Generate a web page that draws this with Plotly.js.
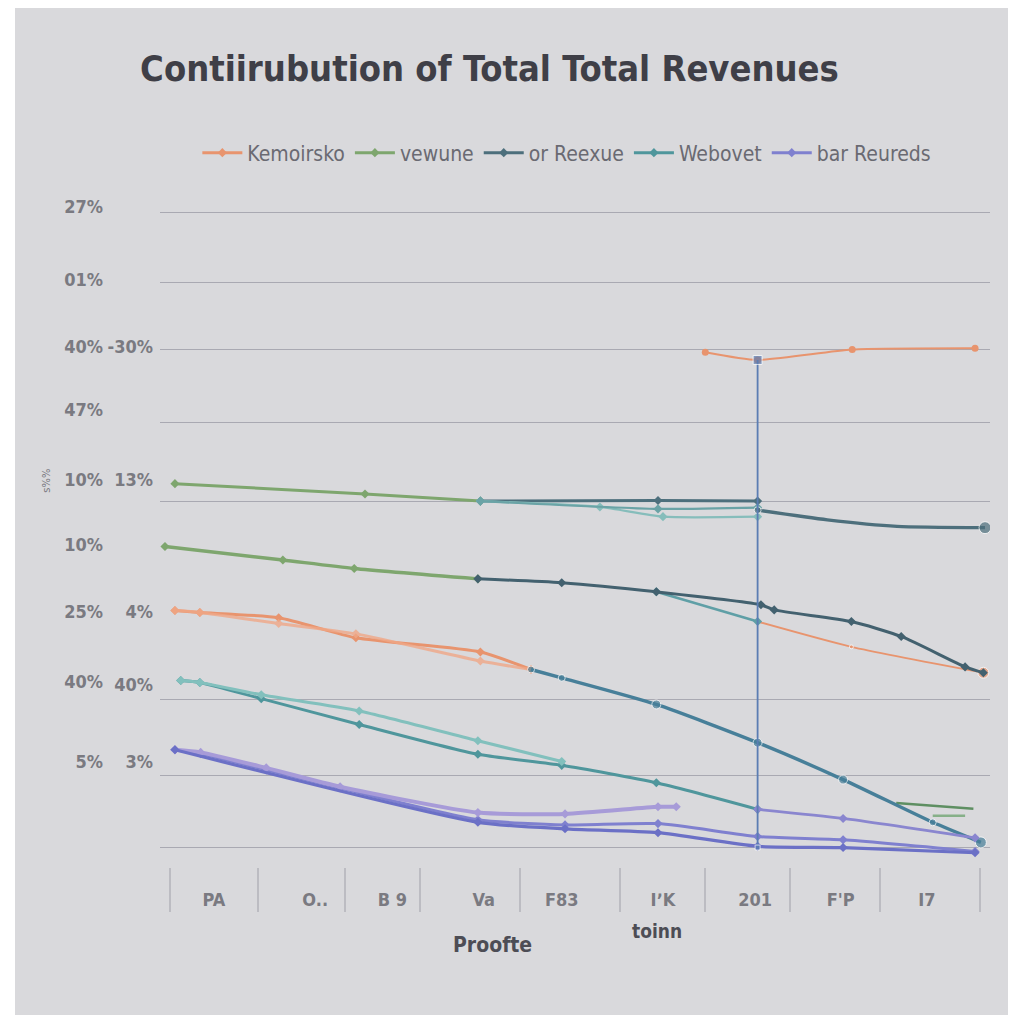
<!DOCTYPE html>
<html>
<head>
<meta charset="utf-8">
<script src="https://cdn.plot.ly/plotly-3.0.1.min.js"></script>
<style>
  html, body { margin: 0; padding: 0; background: #ffffff; width: 1024px; height: 1024px; overflow: hidden; }
  #chart { position: absolute; left: 15px; top: 8px; width: 993px; height: 1007px; }
</style>
</head>
<body>
<div id="chart"></div>
<script>
// ---------------- data ----------------
const seriesNames = ["Kemoirsko", "vewune", "or Reexue", "Webovet", "bar Reureds"];
const seriesColors = ["#e8946e", "#7ea66e", "#4d6f7c", "#4f969c", "#7f80cf"];

const catPos = [6.5, 18.7, 28, 39, 48.4, 60.6, 71.7, 82, 92.4];
const catLabels = ["PA", "O..", "B 9", "Va", "F83", "I\u02BCK", "201", "F'P", "I7"];
const tickBarPos = [1.2, 11.8, 22.3, 31.3, 43.4, 55.4, 65.7, 75.9, 86.7, 98.8];

const gridVals = [98.1, 87.3, 76.9, 65.7, 53.5, 22.8, 11.1, 0];
const yTickPos1 = [98.9, 87.7, 77.3, 67.6, 56.8, 46.8, 36.4, 25.6, 13.3];
const yTickLabels1 = ["27%", "01%", "40%", "47%", "10%", "10%", "25%", "40%", "5%"];
const yTickPos2 = [77.3, 56.8, 36.4, 25.2, 13.3];
const yTickLabels2 = ["-30%", "13%", "4%", "40%", "3%"];

// orange (Kemoirsko)
const orangeTopX = [65.7, 72.0, 83.4, 98.2];
const orangeTopY = [76.5, 75.3, 76.9, 77.1];
const orangeLowX = [1.8, 4.8, 14.3, 23.6, 38.6, 44.7];
const orangeLowY = [36.6, 36.3, 35.5, 32.4, 30.2, 27.5];
const orangeLowBX = [1.8, 4.8, 14.3, 23.6, 38.6, 44.7];
const orangeLowBY = [36.6, 36.3, 34.6, 33.0, 28.8, 27.5];
const orangeRightX = [72.0, 83.3, 99.2];
const orangeRightY = [34.9, 31.0, 27.0];

// green (vewune)
const greenTopX = [1.8, 24.7, 38.6];
const greenTopY = [56.2, 54.6, 53.5];
const greenMidX = [0.6, 14.8, 23.4, 38.3];
const greenMidY = [46.5, 44.4, 43.1, 41.5];
const greenLowAX = [88.7, 98.0];
const greenLowAY = [6.9, 6.0];
const greenLowBX = [93.1, 97.0];
const greenLowBY = [4.9, 4.9];

// slate (or Reexue)
const slateTopX = [38.6, 60.0, 72.0];
const slateTopY = [53.5, 53.6, 53.5];
const slateTopRX = [72.0, 80.4, 88.8, 99.4];
const slateTopRY = [52.1, 50.6, 49.6, 49.4];
const slateMidX = [38.3, 48.4, 59.8, 72.4, 74.0, 83.3, 89.3, 97.0, 99.2];
const slateMidY = [41.5, 40.9, 39.5, 37.5, 36.7, 34.9, 32.6, 27.9, 27.0];

// teal (Webovet)
const tealSteepX = [44.7, 48.4, 59.8, 72.0, 82.3, 93.1, 98.9];
const tealSteepY = [27.5, 26.2, 22.1, 16.2, 10.5, 3.9, 0.8];
const tealAX = [2.5, 4.8, 12.2, 24.0, 38.3, 48.4, 59.8, 72.0];
const tealAY = [25.8, 25.5, 23.0, 19.0, 14.4, 12.7, 10.0, 5.9];
const tealBX = [2.5, 4.8, 12.2, 24.0, 38.3, 48.4];
const tealBY = [25.8, 25.5, 23.6, 21.1, 16.5, 13.3];
const tealTopAX = [38.6, 53.0, 60.6, 72.0];
const tealTopAY = [53.5, 52.6, 51.1, 51.1];
const tealTopBX = [38.6, 60.0, 72.0];
const tealTopBY = [53.5, 52.3, 52.5];
const tealMidX = [59.8, 72.0];
const tealMidY = [39.5, 34.9];

// purple (bar Reureds)
const purpleLightX = [1.8, 4.9, 12.8, 21.7, 38.3, 48.8, 60.0, 62.2];
const purpleLightY = [15.1, 14.7, 12.3, 9.4, 5.4, 5.2, 6.3, 6.3];
const purpleMidX = [1.8, 4.9, 12.8, 21.7, 38.3, 48.8, 60.0, 72.0, 82.3, 98.2];
const purpleMidY = [15.1, 14.5, 12.0, 9.2, 4.3, 3.5, 3.7, 1.7, 1.2, -0.6];
const purpleDarkX = [1.8, 38.3, 48.8, 60.0, 72.0, 82.3, 98.2];
const purpleDarkY = [15.1, 3.9, 2.9, 2.3, 0.2, 0.0, -0.8];
const purpleTailX = [72.0, 82.3, 98.2];
const purpleTailY = [5.9, 4.5, 1.5];

// vertical marker line
const vLineX = [72.0, 72.0];
const vLineY = [75.3, 0.0];

// ---------------- traces ----------------
function tr(x, y, color, opts) {
  opts = opts || {};
  return {
    type: 'scatter', mode: opts.mode || 'lines+markers', x: x, y: y,
    name: opts.name || '', showlegend: !!opts.name, legendgroup: opts.group || '',
    line: { color: color, width: opts.width || 3, shape: opts.shape || 'spline', smoothing: 0.6 },
    marker: { color: color, size: opts.msize || 7, symbol: opts.symbol || 'diamond' },
    opacity: opts.opacity || 1, hoverinfo: 'skip'
  };
}

const traces = [
  tr(orangeLowX, orangeLowY, seriesColors[0], { name: seriesNames[0], group: 'a' }),
  tr(greenTopX, greenTopY, seriesColors[1], { name: seriesNames[1], group: 'b' }),
  tr(slateTopX, slateTopY, seriesColors[2], { name: seriesNames[2], group: 'c' }),
  tr(tealAX, tealAY, seriesColors[3], { name: seriesNames[3], group: 'd' }),
  tr(purpleMidX, purpleMidY, seriesColors[4], { name: seriesNames[4], group: 'e' }),

  tr(orangeLowBX, orangeLowBY, '#f0a888', { group: 'a', opacity: 0.8 }),
  tr(orangeTopX, orangeTopY, seriesColors[0], { group: 'a', width: 2, msize: 7, symbol: 'circle' }),
  tr(orangeRightX, orangeRightY, seriesColors[0], { group: 'a', width: 1.8, msize: [4, 4, 11], symbol: 'circle' }),

  tr(greenMidX, greenMidY, seriesColors[1], { group: 'b', width: 3.4 }),
  tr(greenLowAX, greenLowAY, '#5e8f62', { group: 'b', mode: 'lines', width: 2.5 }),
  tr(greenLowBX, greenLowBY, '#86b088', { group: 'b', mode: 'lines', width: 2.5 }),

  tr(tealTopAX, tealTopAY, '#86bdbb', { group: 'd', width: 2.2 }),
  tr(tealTopBX, tealTopBY, '#6aa3a6', { group: 'd', width: 2.2 }),
  tr(tealBX, tealBY, '#82c0bd', { group: 'd', width: 3 }),
  tr(tealMidX, tealMidY, '#5f9fa6', { group: 'd', width: 2.6 }),
  tr(tealSteepX, tealSteepY, '#477f99', { group: 'd', width: 3.4, msize: [7, 7, 9, 9, 9, 7, 11], symbol: 'circle' }),

  tr(slateTopRX, slateTopRY, seriesColors[2], { group: 'c', width: 3.4, msize: [7, 0, 0, 12], symbol: 'circle' }),
  tr(slateMidX, slateMidY, '#43616f', { group: 'c', width: 3 }),

  tr(purpleLightX, purpleLightY, '#a79bd8', { group: 'e', width: 4 }),
  tr(purpleDarkX, purpleDarkY, '#6b70c6', { group: 'e', width: 3.2 }),
  tr(purpleTailX, purpleTailY, '#8a86cf', { group: 'e', width: 2.8 }),

  tr(vLineX, vLineY, '#5b7db3', { mode: 'lines+markers', width: 1.8, msize: [9, 5], symbol: 'square', shape: 'linear' })
];

// ---------------- layout ----------------
const fam = 'Liberation Sans Narrow, DejaVu Sans Condensed, Arial Narrow, sans-serif';
const tickFont = { family: fam, size: 18, color: '#7a7a81', weight: 'bold' };

const layout = {
  width: 993, height: 1007,
  paper_bgcolor: '#d9d9dc', plot_bgcolor: '#d9d9dc',
  margin: { l: 145, r: 18, t: 192, b: 148 },
  title: {
    text: '<b>Contiirubution of Total Total Revenues</b>',
    font: { family: fam, size: 36, color: '#3f3f47' },
    x: 0.126, xanchor: 'left', xref: 'container', y: 0.9404, yanchor: 'middle', yref: 'container'
  },
  showlegend: true,
  legend: {
    orientation: 'h', x: 0.045, xanchor: 'left', y: 1.0705, yanchor: 'middle',
    font: { family: fam, size: 21, color: '#6a6a72' },
    itemwidth: 40, bgcolor: 'rgba(0,0,0,0)', traceorder: 'normal'
  },
  xaxis: {
    range: [0, 100], showgrid: false, zeroline: false, showline: false,
    tickvals: catPos, ticktext: catLabels, ticks: '', ticklabelstandoff: 20, tickfont: tickFont
  },
  xaxis2: {
    overlaying: 'x', anchor: 'y', side: 'bottom', range: [0, 100], showgrid: false, zeroline: false,
    tickvals: tickBarPos, ticks: 'outside', ticklen: 44, tickwidth: 2, tickcolor: 'rgba(160,160,168,0.5)',
    showticklabels: false
  },
  yaxis: {
    range: [-3, 100], showgrid: true, gridcolor: '#a9a9b2', gridwidth: 1, zeroline: false,
    tickvals: gridVals, showticklabels: false, ticks: ''
  },
  yaxis2: {
    overlaying: 'y', anchor: 'x', side: 'left', range: [-3, 100], showgrid: false, zeroline: false,
    tickvals: yTickPos1, ticktext: yTickLabels1, ticks: '', ticklabelstandoff: 56, tickfont: tickFont
  },
  yaxis3: {
    overlaying: 'y', anchor: 'x', side: 'left', range: [-3, 100], showgrid: false, zeroline: false,
    tickvals: yTickPos2, ticktext: yTickLabels2, ticks: '', ticklabelstandoff: 6, tickfont: tickFont
  },
  annotations: [
    { text: '<b>Proofte</b>', xref: 'paper', yref: 'paper', x: 0.4, y: -0.138, showarrow: false,
      font: { family: fam, size: 21, color: '#4d4d55' } },
    { text: '<b>toinn</b>', xref: 'paper', yref: 'paper', x: 0.599, y: -0.116, showarrow: false,
      font: { family: fam, size: 19, color: '#4d4d55' } },
    { text: 's%%', xref: 'paper', yref: 'paper', x: -0.147, y: 0.58, showarrow: false, textangle: -90,
      font: { family: 'DejaVu Sans Condensed, sans-serif', size: 11, color: '#7a7a82' } }
  ]
};

traces.push({ type: 'scatter', x: [0], y: [0], xaxis: 'x2', yaxis: 'y', mode: 'markers', marker: { opacity: 0 }, showlegend: false, hoverinfo: 'skip' });
traces.push({ type: 'scatter', x: [0], y: [0], xaxis: 'x', yaxis: 'y2', mode: 'markers', marker: { opacity: 0 }, showlegend: false, hoverinfo: 'skip' });
traces.push({ type: 'scatter', x: [0], y: [0], xaxis: 'x', yaxis: 'y3', mode: 'markers', marker: { opacity: 0 }, showlegend: false, hoverinfo: 'skip' });

Plotly.newPlot('chart', traces, layout, { staticPlot: true, displayModeBar: false });
</script>
</body>
</html>
